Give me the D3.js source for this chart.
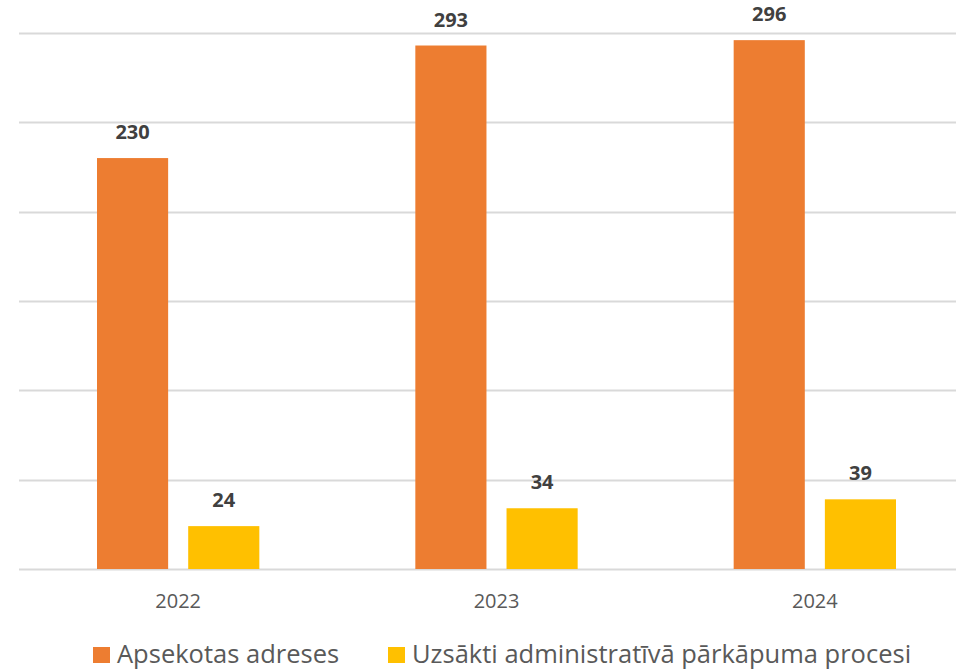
<!DOCTYPE html>
<html>
<head>
<meta charset="utf-8">
<script src="https://cdn.jsdelivr.net/npm/d3@7"></script>
<style>
  html, body { margin: 0; padding: 0; background: #fff; overflow: hidden; }
  svg { display: block; font-family: "Open Sans", Lato, sans-serif; }
</style>
</head>
<body>
<div id="chart"></div>
<script>
// Chart data
const years = ["2022", "2023", "2024"];
const seriesNames = ["Apsekotas adreses", "Uzsākti administratīvā pārkāpuma procesi"];
const apsekotas = [230, 293, 296];
const uzsakti = [24, 34, 39];
const yTicks = [0, 50, 100, 150, 200, 250, 300];

const colors = ["#ed7d31", "#ffc000"];
const W = 956, H = 670;

const svg = d3.select("#chart")
    .append("svg")
    .attr("width", W)
    .attr("height", H);

// Scales
const x = d3.scaleBand()
    .domain(years)
    .range([19, 974]);

const y = d3.scaleLinear()
    .domain([0, 300])
    .range([569, 33]);

const inner = d3.scaleBand()
    .domain([0, 1])
    .range([78, x.bandwidth() - 78])
    .paddingInner(0.22);

// Gridlines
svg.append("g")
    .selectAll("line")
    .data(yTicks)
    .join("line")
    .attr("x1", 19)
    .attr("x2", W)
    .attr("y1", d => Math.round(y(d)) + 0.5)
    .attr("y2", d => Math.round(y(d)) + 0.5)
    .attr("stroke", "#d9d9d9")
    .attr("stroke-width", 2);

// Bars + labels for each series
[apsekotas, uzsakti].forEach((values, s) => {
    const g = svg.append("g");
    g.selectAll("rect")
        .data(values)
        .join("rect")
        .attr("x", (d, i) => x(years[i]) + inner(s))
        .attr("y", d => y(d))
        .attr("width", inner.bandwidth())
        .attr("height", d => y(0) - y(d))
        .attr("fill", colors[s]);

    g.selectAll("text")
        .data(values)
        .join("text")
        .attr("x", (d, i) => x(years[i]) + inner(s) + inner.bandwidth() / 2)
        .attr("y", d => y(d) - 19)
        .attr("text-anchor", "middle")
        .attr("font-size", 20)
        .attr("font-weight", "bold")
        .attr("fill", "#404040")
        .text(d => d);
});

// X axis labels
svg.append("g")
    .selectAll("text")
    .data(years)
    .join("text")
    .attr("x", d => x(d) + x.bandwidth() / 2)
    .attr("y", 608)
    .attr("text-anchor", "middle")
    .attr("font-size", 20)
    .attr("fill", "#595959")
    .text(d => d);

// Legend
const legendX = [93, 388];
const legend = svg.append("g")
    .selectAll("g")
    .data(seriesNames)
    .join("g")
    .attr("transform", (d, i) => `translate(${legendX[i]},647)`);

legend.append("rect")
    .attr("width", 17)
    .attr("height", 16)
    .attr("fill", (d, i) => colors[i]);

legend.append("text")
    .attr("x", 24)
    .attr("y", 16)
    .attr("font-size", 25.5)
    .attr("fill", "#595959")
    .text(d => d);
</script>
</body>
</html>
